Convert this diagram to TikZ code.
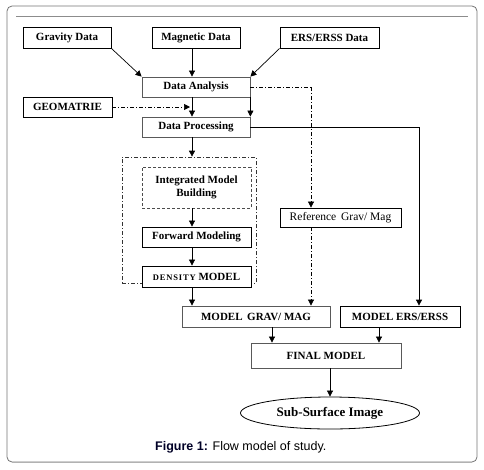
\documentclass[tikz,border=0pt]{standalone}
\usepackage{fontspec}
\setmainfont{Liberation Serif}
\newfontfamily\capfont{Liberation Sans}
\newfontfamily\spacedserif[LetterSpace=10]{Liberation Serif}
\usetikzlibrary{arrows.meta,shapes.geometric,calc}
\begin{document}
\begin{tikzpicture}[x=1pt,y=-1pt,
  box/.style={draw=black, line width=0.8pt, fill=white, inner sep=0pt, anchor=center,
    font=\fontsize{11}{13}\selectfont\bfseries, align=center},
  gbox/.style={box, draw=black!65},
  arr/.style={line width=0.7pt, -{Triangle[length=6pt,width=6pt]}},
  dd/.style={line width=0.7pt, dash pattern=on 4pt off 2pt on 1pt off 2pt},
]
\useasboundingbox (0,0) rectangle (484,469);
% frame
\draw[black!55, line width=0.8pt, rounded corners=5pt] (7,6) rectangle (477,462);
\draw[black!30, line width=1.6pt] (12,462.6) -- (472,462.6);
\draw[black!45, line width=0.8pt] (16,16) -- (468,16);

% nodes
\node[box, minimum width=88pt, minimum height=21pt] (grav) at (67,37.5) {Gravity Data};
\node[box, minimum width=88pt, minimum height=21pt] (mag) at (196,37.5) {Magnetic Data};
\node[box, minimum width=99pt, minimum height=21pt] (ers) at (329.5,37.5) {ERS/ERSS Data};
\node[gbox, minimum width=108pt, minimum height=20pt] (ana) at (196,87) {Data Analysis};
\node[box, minimum width=89pt, minimum height=20pt] (geo) at (67.5,107) {GEOMATRIE};
\node[gbox, minimum width=108pt, minimum height=20pt] (proc) at (196,127) {Data Processing};
\node[draw=black!80, line width=0.7pt, dd, minimum width=134pt, minimum height=126pt, inner sep=0pt] (big) at (189,220) {};
\node[box, draw=black!70, dash pattern=on 3pt off 2pt, minimum width=109pt, minimum height=41pt] (imb) at (196.5,187.5) {Integrated Model\\Building};
\node[box, minimum width=109pt, minimum height=20pt] (fwd) at (196.5,237) {Forward Modeling};
\node[box, minimum width=109pt, minimum height=21pt] (dens) at (196.5,276.5) {{\spacedserif\bfseries\fontsize{8.5}{10}\selectfont DENSITY} MODEL};
\node[box, font=\fontsize{11.5}{13}\selectfont, minimum width=121pt, minimum height=19pt] (ref) at (340.5,217.5) {Reference\, Grav/ Mag};
\node[gbox, minimum width=148pt, minimum height=21pt] (mgm) at (256,316.5) {MODEL\, GRAV/ MAG};
\node[box, minimum width=120pt, minimum height=21pt] (mers) at (400,316.5) {MODEL ERS/ERSS};
\node[gbox, minimum width=150pt, minimum height=25pt] (final) at (326,355.5) {FINAL MODEL};
\node[ellipse, draw=black, line width=0.8pt, inner sep=0pt, minimum width=179pt, minimum height=32pt,
  font=\fontsize{13}{15}\selectfont\bfseries] (ell) at (330,413) {Sub-Surface Image};
\node[anchor=base west, inner sep=0pt, font=\capfont\fontsize{12.5}{14}\selectfont] (cap) at (155,450)
  {\textbf{\color{black!85!blue}Figure 1:} Flow model of study.};

% helper coordinates
\coordinate (cx) at (192,0);
\coordinate (dx) at (311,0);
\coordinate (px) at (419,0);

% connectors
\draw[arr] (grav.south east) -- (ana.north west);
\draw[arr] (mag.south -| cx) -- (ana.north -| cx);
\draw[arr] (ers.south west) -- (ana.north east);
\draw[arr] (ana.south -| cx) -- (proc.north -| cx);
\draw[arr] (ana.south east) -- (proc.north east);
\draw[dd, -{Triangle[length=6pt,width=6pt]}] (geo.east) -- ([xshift=-2pt]geo.east -| cx);
\draw[arr] (proc.south -| cx) -- (big.north -| cx);
\draw[arr] (imb.south -| cx) -- (fwd.north -| cx);
\draw[arr] (fwd.south -| cx) -- (dens.north -| cx);
\draw[arr] (dens.south -| cx) -- (mgm.north -| cx);
\draw[dd] (ana.east) -- (ana.east -| dx);
\draw[dd, -{Triangle[length=6pt,width=6pt]}] (ana.east -| dx) -- (ref.north -| dx);
\draw[dd, -{Triangle[length=6pt,width=6pt]}] (ref.south -| dx) -- (mgm.north -| dx);
\draw[line width=0.8pt] (proc.east) -- (proc.east -| px);
\draw[arr, line width=0.8pt] (proc.east -| px) -- (mers.north -| px);
\coordinate (fx1) at (272,0);
\coordinate (fx2) at (379,0);
\draw[arr] (mgm.south -| fx1) -- (final.north -| fx1);
\draw[arr] (mers.south -| fx2) -- (final.north -| fx2);
\draw[arr] (final.south -| ell.north) -- (ell.north);
\end{tikzpicture}
\end{document}
